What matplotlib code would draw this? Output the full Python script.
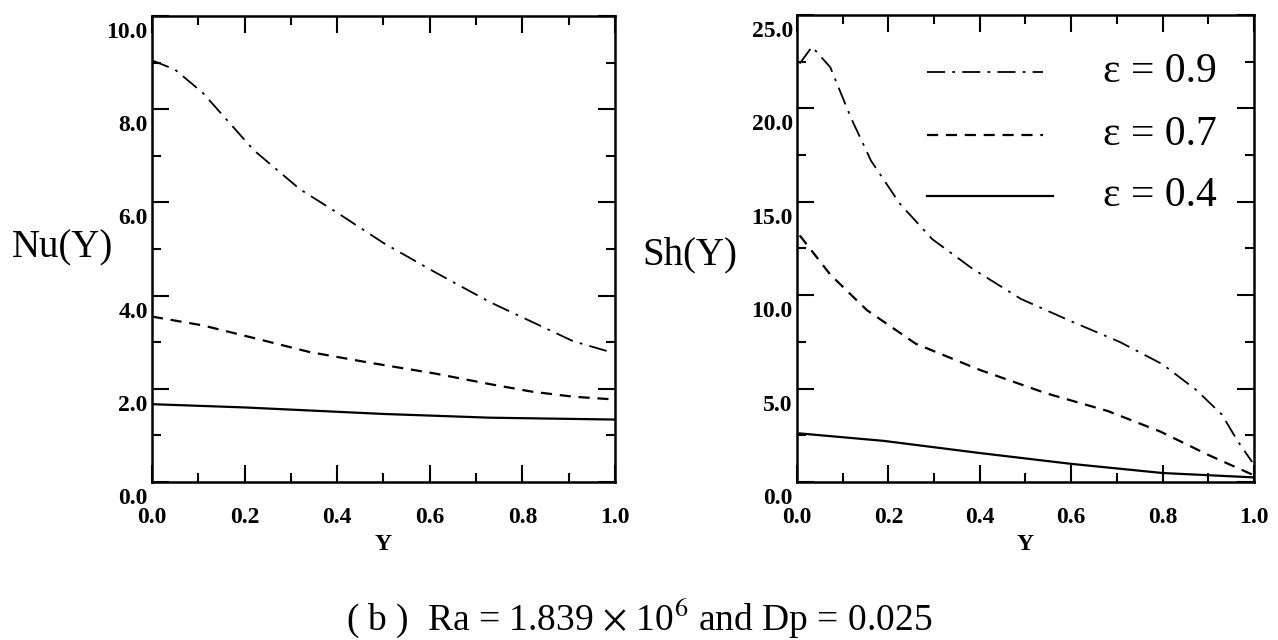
import matplotlib
matplotlib.use("Agg")
import matplotlib.pyplot as plt
import matplotlib.transforms as mtransforms
from matplotlib.ticker import MultipleLocator

plt.rcParams['font.family'] = ['Liberation Serif', 'DejaVu Serif']
plt.rcParams['mathtext.fontset'] = 'stix'

# Nu(Y) curves, left panel
y_nu_09 = [0.0, 0.05, 0.11, 0.22, 0.32, 0.40, 0.50, 0.61, 0.73, 0.82, 0.91, 0.99]
nu_09 = [9.05, 8.85, 8.35, 7.12, 6.28, 5.78, 5.13, 4.51, 3.86, 3.44, 3.02, 2.79]
y_nu_07 = [0.0, 0.11, 0.22, 0.34, 0.47, 0.61, 0.73, 0.82, 0.91, 1.0]
nu_07 = [3.55, 3.36, 3.09, 2.79, 2.56, 2.33, 2.10, 1.94, 1.83, 1.77]
y_nu_04 = [0.0, 0.2, 0.5, 0.73, 1.0]
nu_04 = [1.67, 1.60, 1.46, 1.38, 1.34]

# Sh(Y) curves, right panel
y_sh_09 = [0.006, 0.033, 0.073, 0.118, 0.162, 0.225, 0.296, 0.385, 0.49,
           0.60, 0.706, 0.80, 0.875, 0.93, 0.964, 0.996]
sh_09 = [22.4, 23.3, 22.2, 19.5, 17.2, 14.9, 13.0, 11.4, 9.8,
         8.6, 7.5, 6.3, 4.9, 3.6, 2.2, 1.07]
y_sh_07 = [0.006, 0.073, 0.153, 0.26, 0.40, 0.545, 0.68, 0.795, 0.90, 0.996]
sh_07 = [13.2, 11.1, 9.2, 7.4, 6.0, 4.75, 3.8, 2.7, 1.45, 0.4]
y_sh_04 = [0.006, 0.19, 0.40, 0.60, 0.80, 0.996]
sh_04 = [2.6, 2.2, 1.55, 0.97, 0.48, 0.25]

eps_labels = ["ε = 0.9", "ε = 0.7", "ε = 0.4"]

dashdot = (0, (10, 4, 1.5, 4))
dashed = (0, (5, 3.5))

fig = plt.figure(figsize=(12.78, 6.40), dpi=100)
ax1 = fig.add_axes([0.1189, 0.2469, 0.3623, 0.728])
ax2 = fig.add_axes([0.6236, 0.2469, 0.3576, 0.7297])

ax1.plot(y_nu_09, nu_09, color='black', lw=1.3, ls=dashdot)
ax1.plot(y_nu_07, nu_07, color='black', lw=1.6, ls=dashed)
ax1.plot(y_nu_04, nu_04, color='black', lw=1.6, ls='-')
ax1.set_ylim(0, 10)
ax1.yaxis.set_major_locator(MultipleLocator(2))
ax1.yaxis.set_minor_locator(MultipleLocator(1))

ax2.plot(y_sh_09, sh_09, color='black', lw=1.3, ls=dashdot)
ax2.plot(y_sh_07, sh_07, color='black', lw=1.6, ls=dashed)
ax2.plot(y_sh_04, sh_04, color='black', lw=1.6, ls='-')
ax2.set_ylim(0, 25)
ax2.yaxis.set_major_locator(MultipleLocator(5))
ax2.yaxis.set_minor_locator(MultipleLocator(2.5))

# y tick labels sit a bit below their ticks in the original
shift = mtransforms.ScaledTranslation(0, -0.14, fig.dpi_scale_trans)

for ax in (ax1, ax2):
    ax.set_xlim(0, 1)
    ax.xaxis.set_major_locator(MultipleLocator(0.2))
    ax.xaxis.set_minor_locator(MultipleLocator(0.1))
    ax.tick_params(which='both', direction='in', top=True, right=True,
                   width=1.5, labelsize=17)
    ax.tick_params(axis='x', pad=18)
    ax.tick_params(axis='y', pad=3)
    ax.tick_params(which='major', length=12)
    ax.tick_params(which='minor', length=6.5)
    for s in ax.spines.values():
        s.set_linewidth(1.8)
    ax.xaxis.set_major_formatter(plt.FormatStrFormatter('%.1f'))
    ax.yaxis.set_major_formatter(plt.FormatStrFormatter('%.1f'))
    for lab in ax.get_xticklabels() + ax.get_yticklabels():
        lab.set_fontweight('bold')
    for lab in ax.get_yticklabels():
        lab.set_transform(lab.get_transform() + shift)
    ax.set_xlabel('Y', fontsize=17, fontweight='bold', labelpad=4)

fig.text(0.0094, 0.6125, 'Nu(Y)', fontsize=28, va='center', ha='left')
fig.text(0.503, 0.6016, 'Sh(Y)', fontsize=28, va='center', ha='left')

# legend drawn by hand inside right panel
leg_y = [0.878, 0.743, 0.612]
styles = [(dashdot, 1.3), (dashed, 1.6), ('-', 1.6)]
leg_x_end = [0.538, 0.538, 0.56]
for yy, (ls, lw), lab, xe in zip(leg_y, styles, eps_labels, leg_x_end):
    ax2.plot([0.284, xe], [yy, yy], transform=ax2.transAxes, color='black',
             ls=ls, lw=lw, clip_on=False)
    ax2.text(0.67, yy, lab, transform=ax2.transAxes, fontsize=30,
             va='center', ha='left')

fig.text(0.5, 0.0344, r"( b )  Ra = 1.839 $\times$ 10$^6$ and Dp = 0.025",
         fontsize=27, ha='center', va='center')

fig.savefig('out.png', dpi=100)
